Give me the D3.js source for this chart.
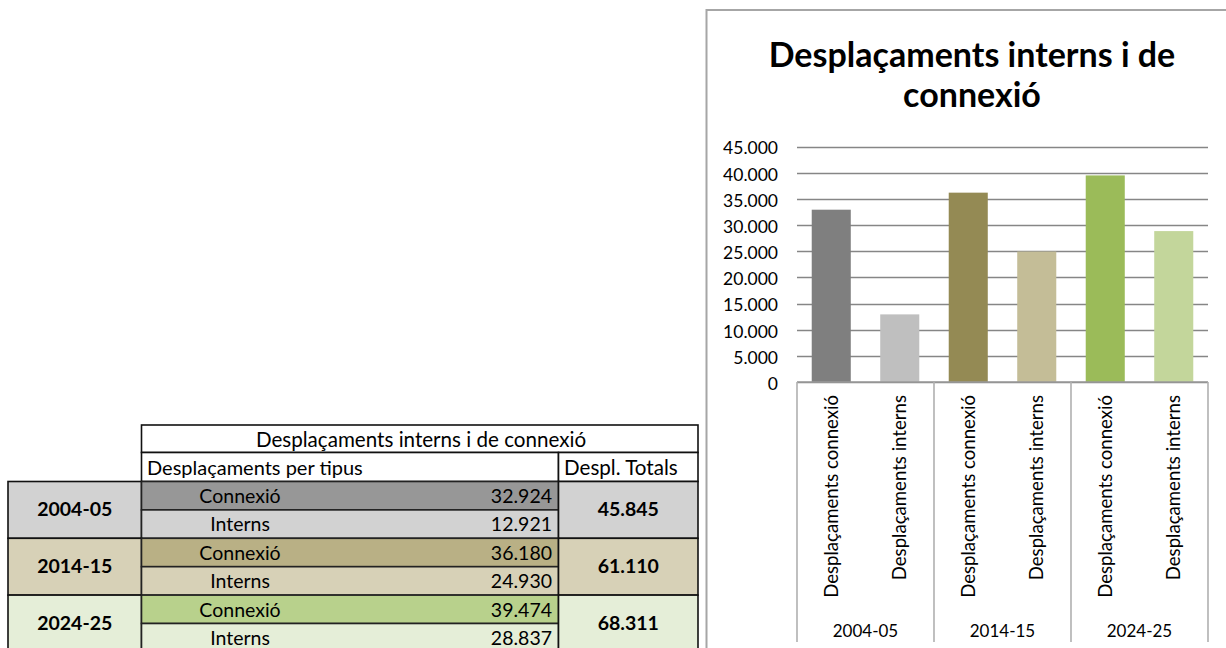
<!DOCTYPE html>
<html>
<head>
<meta charset="utf-8">
<script src="https://cdn.jsdelivr.net/npm/d3@7"></script>
<style>
  html, body { margin: 0; padding: 0; background: #fff; }
  svg { display: block; }
  text { font-family: Lato, "Open Sans", sans-serif; fill: #000; }
</style>
</head>
<body>
<svg id="chart" width="1226" height="648"></svg>
<script>
// ---------- data ----------
const years = ["2004-05", "2014-15", "2024-25"];
const tableTypes = ["Connexió", "Interns"];
const axisTypes = ["Desplaçaments connexió", "Desplaçaments interns"];
const connexio = [32924, 36180, 39474];
const interns = [12921, 24930, 28837];
const yTickValues = [0, 5000, 10000, 15000, 20000, 25000, 30000, 35000, 40000, 45000];
const chartTitle = ["Desplaçaments interns i de", "connexió"];
const tableTitle = "Desplaçaments interns i de connexió";
const tableSub = "Desplaçaments per tipus";
const tableTotHead = "Despl. Totals";

// colours
const barColors = [["#7f7f7f", "#bfbfbf"], ["#948a54", "#c4bd97"], ["#9bbb59", "#c3d69b"]];
const yearFill = ["#d2d2d2", "#d7d1b7", "#e5eed8"];
const connFill = ["#979797", "#b9b085", "#b8d18c"];
const intFill = ["#d2d2d2", "#d7d1b7", "#e5eed8"];

const loc = d3.formatLocale({ decimal: ",", thousands: ".", grouping: [3], currency: ["", "€"] });
const fmt = loc.format(",d");

const svg = d3.select("#chart");
svg.append("rect").attr("width", 1226).attr("height", 648).attr("fill", "#fff");

// ---------- table ----------
const T = { left: 8, c1: 141.5, c2: 558.5, right: 698, top: 425, h1: 452.5, body: 481.5, rh: 28.4 };
const FS = 19.5, FH = 20.6;
const tbl = svg.append("g");

// headers
tbl.append("rect").attr("x", T.c1).attr("y", T.top).attr("width", T.right - T.c1).attr("height", T.h1 - T.top)
  .attr("fill", "#fff").attr("stroke", "#111").attr("stroke-width", 1.6);
tbl.append("rect").attr("x", T.c1).attr("y", T.h1).attr("width", T.c2 - T.c1).attr("height", T.body - T.h1)
  .attr("fill", "#fff").attr("stroke", "#111").attr("stroke-width", 1.6);
tbl.append("rect").attr("x", T.c2).attr("y", T.h1).attr("width", T.right - T.c2).attr("height", T.body - T.h1)
  .attr("fill", "#fff").attr("stroke", "#111").attr("stroke-width", 1.6);
tbl.append("text").attr("x", 421).attr("y", 446.5).attr("text-anchor", "middle")
  .attr("font-size", FH).text(tableTitle);
tbl.append("text").attr("x", 147).attr("y", 474.5).attr("font-size", FH - 0.6).text(tableSub);
tbl.append("text").attr("x", 564).attr("y", 474.5).attr("font-size", FH).text(tableTotHead);

const blocks = tbl.selectAll("g.block").data(years).join("g").attr("class", "block");
blocks.each(function (yr, i) {
  const g = d3.select(this);
  const y0 = T.body + i * 2 * T.rh;
  g.append("rect").attr("x", T.left).attr("y", y0).attr("width", T.c1 - T.left).attr("height", 2 * T.rh)
    .attr("fill", yearFill[i]).attr("stroke", "#111").attr("stroke-width", 1.6);
  g.append("rect").attr("x", T.c1).attr("y", y0).attr("width", T.c2 - T.c1).attr("height", T.rh)
    .attr("fill", connFill[i]).attr("stroke", "#222").attr("stroke-width", 1.6);
  g.append("rect").attr("x", T.c1).attr("y", y0 + T.rh).attr("width", T.c2 - T.c1).attr("height", T.rh)
    .attr("fill", intFill[i]).attr("stroke", "#222").attr("stroke-width", 1.6);
  g.append("rect").attr("x", T.c2).attr("y", y0).attr("width", T.right - T.c2).attr("height", 2 * T.rh)
    .attr("fill", yearFill[i]).attr("stroke", "#111").attr("stroke-width", 1.6);
  g.append("text").attr("x", (T.left + T.c1) / 2).attr("y", y0 + T.rh + 6.5).attr("text-anchor", "middle")
    .attr("font-size", FS).attr("font-weight", "bold").text(yr);
  g.append("text").attr("x", 240).attr("y", y0 + 21.5).attr("text-anchor", "middle")
    .attr("font-size", FS).text(tableTypes[0]);
  g.append("text").attr("x", 240).attr("y", y0 + T.rh + 21.5).attr("text-anchor", "middle")
    .attr("font-size", FS).text(tableTypes[1]);
  g.append("text").attr("x", 552).attr("y", y0 + 21.5).attr("text-anchor", "end")
    .attr("font-size", FS).text(fmt(connexio[i]));
  g.append("text").attr("x", 552).attr("y", y0 + T.rh + 21.5).attr("text-anchor", "end")
    .attr("font-size", FS).text(fmt(interns[i]));
  g.append("text").attr("x", (T.c2 + T.right) / 2).attr("y", y0 + T.rh + 6.5).attr("text-anchor", "middle")
    .attr("font-size", FS).attr("font-weight", "bold").text(fmt(connexio[i] + interns[i]));
});

// ---------- chart ----------
// frame
svg.append("rect").attr("x", 706.5).attr("y", 10).attr("width", 600).attr("height", 700)
  .attr("fill", "#fff").attr("stroke", "#a6a6a6").attr("stroke-width", 2);

const title = svg.append("text").attr("text-anchor", "middle").attr("font-size", 34).attr("font-weight", "bold");
title.selectAll("tspan").data(chartTitle).join("tspan")
  .attr("x", 972).attr("y", (d, i) => 67 + i * 40).text(d => d);

const plot = { left: 797, right: 1208, top: 146.5, bottom: 382 };
const y = d3.scaleLinear().domain([0, 45000]).range([plot.bottom, plot.top]);
const xg = d3.scaleBand().domain(years).range([plot.left, plot.right]).padding(0);
const xs = d3.scaleBand().domain([0, 1]).range([0, xg.bandwidth()]).paddingInner(0.43).paddingOuter(0.215);

// y axis labels
const yAxis = d3.axisLeft(y).tickValues(yTickValues).tickSize(0).tickPadding(19).tickFormat(fmt);
const ya = svg.append("g").attr("transform", `translate(${plot.left},0)`).call(yAxis);
ya.select(".domain").remove();
ya.selectAll("text").attr("font-size", 17.5).attr("font-family", "Lato, sans-serif").attr("fill", "#222").attr("dy", "0.42em");
// gridlines
svg.append("g").selectAll("line").data(yTickValues).join("line")
  .attr("x1", plot.left).attr("x2", plot.right)
  .attr("y1", d => Math.round(y(d)) + 0.5).attr("y2", d => Math.round(y(d)) + 0.5)
  .attr("stroke", "#868686").attr("stroke-width", 1.6);

// bars
const bars = [];
years.forEach((yr, i) => {
  bars.push({ yr, s: 0, v: connexio[i], c: barColors[i][0] });
  bars.push({ yr, s: 1, v: interns[i], c: barColors[i][1] });
});
svg.append("g").selectAll("rect").data(bars).join("rect")
  .attr("x", d => xg(d.yr) + xs(d.s))
  .attr("width", xs.bandwidth())
  .attr("y", d => y(d.v))
  .attr("height", d => y(0) - y(d.v))
  .attr("fill", d => d.c);

// x axis line and separators
svg.append("line").attr("x1", plot.left).attr("x2", plot.right).attr("y1", plot.bottom).attr("y2", plot.bottom)
  .attr("stroke", "#9a9a9a").attr("stroke-width", 1.6);
const seps = years.map(d => xg(d)).concat([xg(years[years.length - 1]) + xg.bandwidth()]);
svg.append("g").selectAll("line").data(seps).join("line")
  .attr("x1", d => d).attr("x2", d => d).attr("y1", plot.bottom).attr("y2", 642)
  .attr("stroke", "#b0b0b0").attr("stroke-width", 1.6);

// category labels (rotated)
svg.append("g").selectAll("text").data(bars).join("text")
  .attr("transform", d => `translate(${xg(d.yr) + xs(d.s) + xs.bandwidth() / 2 + 6.5},395) rotate(-90)`)
  .attr("text-anchor", "end").attr("font-size", 18.6).attr("fill", "#222")
  .text(d => axisTypes[d.s]);

// group labels
svg.append("g").selectAll("text").data(years).join("text")
  .attr("x", d => xg(d) + xg.bandwidth() / 2).attr("y", 637).attr("text-anchor", "middle")
  .attr("font-size", 17).attr("fill", "#222").text(d => d);
</script>
</body>
</html>
